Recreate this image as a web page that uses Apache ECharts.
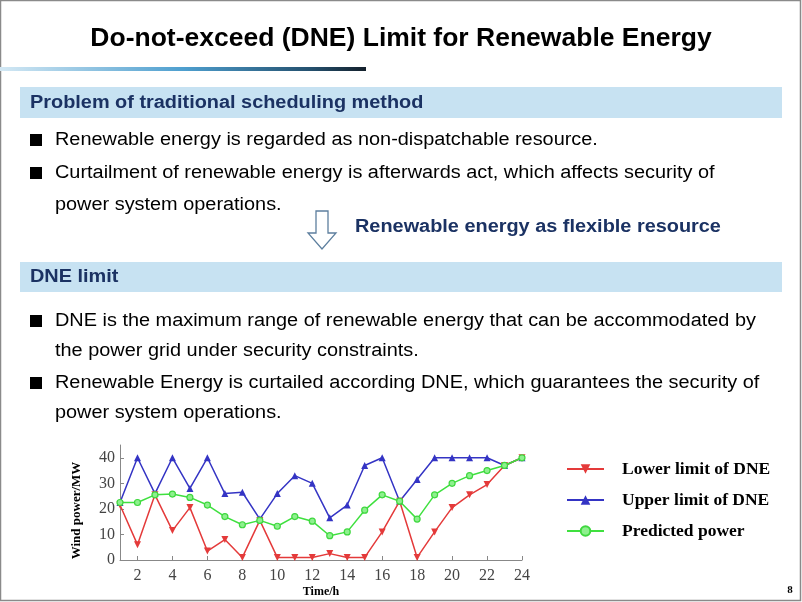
<!DOCTYPE html>
<html><head><meta charset="utf-8">
<script src="https://cdn.jsdelivr.net/npm/echarts@6/dist/echarts.min.js"></script>
<style>html,body{margin:0;padding:0;background:#fff}#c{width:802px;height:602px}</style>
</head><body><div id="c"></div>
<script>
var hours = ['1','2','3','4','5','6','7','8','9','10','11','12','13','14','15','16','17','18','19','20','21','22','23','24'];
var lowerLimit = [21.5,6,25.5,11.5,20.5,3.5,8,1,15.5,1,1,1,2.5,1,1,11,23,1,11,20.5,25.5,29.5,37,40];
var upperLimit = [22.5,40,26,40,28,40,26,26.5,16,26,33,30,16.5,21.5,37,40,23,31.5,40,40,40,40,37,40];
var predicted = [22.5,22.5,25.5,25.8,24.5,21.5,17,13.8,15.5,13.2,17,15.2,9.5,11,19.5,25.5,23,16,25.5,30,33,35,37,40];
var seriesNames = ['Lower limit of DNE','Upper limit of DNE','Predicted power'];

var chart = echarts.init(document.getElementById('c'));
var serif = '"Liberation Serif", "Times New Roman", serif';
var sans = '"Liberation Sans", Arial, sans-serif';
var navy = '#1b3263';
var SX = 1.105;

function txt(x, y, s, font, color, align, sx) {
  return {type:'text', x:x, y:y, scaleX:sx || SX, scaleY:1,
    style:{text:s, font:font, fill:color, align:align || 'left', verticalAlign:'middle',
           textAlign:align || 'left', textVerticalAlign:'middle'}};
}

var graphics = [
  {type:'rect', shape:{x:0.5,y:0.5,width:800,height:600}, style:{fill:'none',stroke:'#8a8a8a',lineWidth:1.5}, silent:true},
  txt(401, 39, 'Do-not-exceed (DNE) Limit for Renewable Energy', 'bold 25px '+sans, '#000', 'center', 1.06),
  {type:'rect', shape:{x:0,y:67,width:366,height:4}, style:{fill:new echarts.graphic.LinearGradient(0,0,1,0,[{offset:0,color:'#d3e8f4'},{offset:0.5,color:'#4e9fcf'},{offset:0.85,color:'#24506e'},{offset:1,color:'#14202b'}])}},
  {type:'rect', shape:{x:20,y:87,width:762,height:31}, style:{fill:'#c7e2f2'}},
  txt(30, 103, 'Problem of traditional scheduling method', 'bold 18px '+sans, navy),
  {type:'rect', shape:{x:30,y:134,width:12,height:12}, style:{fill:'#000'}},
  txt(55, 140, 'Renewable energy is regarded as non-dispatchable resource.', '18px '+sans, '#000'),
  {type:'rect', shape:{x:30,y:167,width:12,height:12}, style:{fill:'#000'}},
  txt(55, 173, 'Curtailment of renewable energy is afterwards act, which affects security of', '18px '+sans, '#000'),
  txt(55, 205, 'power system operations.', '18px '+sans, '#000'),
  {type:'polygon', shape:{points:[[316,211],[328,211],[328,233],[336,233],[322,249],[308,233],[316,233]]}, style:{fill:'#fff',stroke:'#5d7f9e',lineWidth:1.3}},
  txt(355, 227, 'Renewable energy as flexible resource', 'bold 18px '+sans, navy),
  {type:'rect', shape:{x:20,y:262,width:762,height:30}, style:{fill:'#c7e2f2'}},
  txt(30, 277, 'DNE limit', 'bold 18px '+sans, navy),
  {type:'rect', shape:{x:30,y:315,width:12,height:12}, style:{fill:'#000'}},
  txt(55, 321, 'DNE is the maximum range of renewable energy that can be accommodated by', '18px '+sans, '#000'),
  txt(55, 351, 'the power grid under security constraints.', '18px '+sans, '#000'),
  {type:'rect', shape:{x:30,y:377,width:12,height:12}, style:{fill:'#000'}},
  txt(55, 383, 'Renewable Energy is curtailed according DNE, which guarantees the security of', '18px '+sans, '#000'),
  txt(55, 413, 'power system operations.', '18px '+sans, '#000'),
  txt(790, 590, '8', 'bold 11px '+serif, '#000', 'center', 1)
];

chart.setOption({
  animation:false,
  graphic: graphics,
  grid:{left:120, right:280, top:445, bottom:42, containLabel:false},
  legend:{
    orient:'vertical', left:561, top:455, itemWidth:37, itemHeight:12, itemGap:13,
    data:seriesNames,
    textStyle:{fontFamily:serif, fontWeight:'bold', fontSize:17.5, color:'#000', padding:[0,0,0,13]}
  },
  xAxis:{
    type:'category', data:hours, boundaryGap:false,
    name:'Time/h', nameLocation:'middle', nameGap:26,
    nameTextStyle:{fontFamily:serif, fontWeight:'bold', fontSize:12, color:'#000'},
    axisLine:{lineStyle:{color:'#888',width:1}},
    axisTick:{inside:true, length:4, interval:function(i){return i%2===1;}, lineStyle:{color:'#888'}},
    axisLabel:{interval:function(i){return i%2===1;}, fontFamily:serif, fontSize:16, color:'#444', margin:8},
    splitLine:{show:false}
  },
  yAxis:{
    type:'value', min:0, max:45, interval:10,
    name:'Wind power/MW', nameLocation:'middle', nameGap:37, nameRotate:90,
    nameTextStyle:{fontFamily:serif, fontWeight:'bold', fontSize:13, color:'#000', padding:[0,16,0,0]},
    axisLine:{show:true, lineStyle:{color:'#888',width:1}},
    axisTick:{show:true, inside:true, length:4, lineStyle:{color:'#888'}},
    axisLabel:{fontFamily:serif, fontSize:16, color:'#444', margin:5, showMaxLabel:false},
    splitLine:{show:false}
  },
  series:[
    {name:seriesNames[0], type:'line', data:lowerLimit, symbol:'triangle', symbolRotate:180, symbolSize:7,
     lineStyle:{color:'#e43a3a',width:1.5}, itemStyle:{color:'#e43a3a'}, z:3},
    {name:seriesNames[1], type:'line', data:upperLimit, symbol:'triangle', symbolSize:7,
     lineStyle:{color:'#3434c4',width:1.5}, itemStyle:{color:'#3434c4'}, z:2},
    {name:seriesNames[2], type:'line', data:predicted, symbol:'circle', symbolSize:6,
     lineStyle:{color:'#3fe03f',width:1.5}, itemStyle:{color:'#8ef08e', borderColor:'#3fd83f', borderWidth:1.2}, z:4}
  ]
});
</script></body></html>
